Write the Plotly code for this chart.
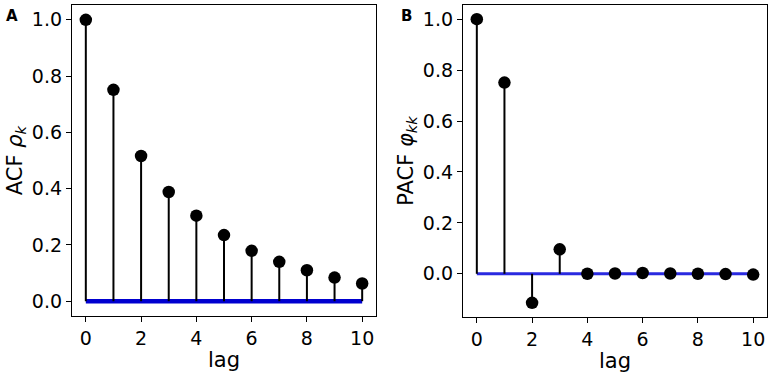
import plotly.graph_objects as go

lags = [0, 1, 2, 3, 4, 5, 6, 7, 8, 9, 10]
acf_values = [1.0, 0.751, 0.516, 0.388, 0.304, 0.235, 0.179, 0.140, 0.110, 0.084, 0.063]
pacf_values = [1.0, 0.751, -0.114, 0.096, 0.0, 0.001, 0.003, 0.001, 0.0, -0.001, -0.003]
x_ticks = [0, 2, 4, 6, 8, 10]
y_ticks = [0.0, 0.2, 0.4, 0.6, 0.8, 1.0]
panel_labels = ["A", "B"]
y_titles = ["ACF <i>ρ</i><sub><i>k</i></sub>", "PACF <i>φ</i><sub><i>kk</i></sub>"]

W, H = 772, 378
FONT = "DejaVu Sans"

def stems(xs, ys):
    sx, sy = [], []
    for x, y in zip(xs, ys):
        sx += [x, x, None]
        sy += [0, y, None]
    return sx, sy

fig = go.Figure()

panels = [
    dict(vals=acf_values, xa="x", ya="y", base_w=4.5, base_c="#0000d0"),
    dict(vals=pacf_values, xa="x2", ya="y2", base_w=3, base_c="#2a2ae0"),
]
for p in panels:
    fig.add_trace(go.Scatter(x=[lags[0], lags[-1]], y=[0, 0], mode="lines",
                             line=dict(color=p["base_c"], width=p["base_w"]),
                             xaxis=p["xa"], yaxis=p["ya"], showlegend=False, hoverinfo="skip"))
    sx, sy = stems(lags, p["vals"])
    fig.add_trace(go.Scatter(x=sx, y=sy, mode="lines",
                             line=dict(color="black", width=2),
                             xaxis=p["xa"], yaxis=p["ya"], showlegend=False, hoverinfo="skip"))
    fig.add_trace(go.Scatter(x=lags, y=p["vals"], mode="markers",
                             marker=dict(color="black", size=12.5),
                             xaxis=p["xa"], yaxis=p["ya"], showlegend=False))

def px_x(a, b):
    return [a / W, b / W]

def px_y(top, bottom):
    return [(H - bottom) / H, (H - top) / H]

axis_common = dict(showline=True, linecolor="black", linewidth=1.3, mirror=True,
                   ticks="outside", ticklen=5, tickwidth=1.3, tickcolor="black",
                   showgrid=False, zeroline=False, automargin=False,
                   tickfont=dict(family=FONT, size=19, color="black"))

fig.update_layout(
    width=W, height=H,
    margin=dict(l=0, r=0, t=0, b=0),
    paper_bgcolor="white", plot_bgcolor="white",
    font=dict(family=FONT, color="black"),
    xaxis=dict(domain=px_x(72, 376), range=[-0.5, 10.5], tickvals=x_ticks,
               title=dict(text="lag", font=dict(family=FONT, size=21), standoff=4),
               anchor="y", **axis_common),
    yaxis=dict(domain=px_y(5, 316), range=[-0.0526, 1.0526], tickvals=y_ticks,
               tickformat=".1f",
               title=dict(text=y_titles[0], font=dict(family=FONT, size=21), standoff=3),
               anchor="x", **axis_common),
    xaxis2=dict(domain=px_x(463, 767), range=[-0.5, 10.5], tickvals=x_ticks,
                title=dict(text="lag", font=dict(family=FONT, size=21), standoff=4),
                anchor="y2", **axis_common),
    yaxis2=dict(domain=px_y(5, 317), range=[-0.1697, 1.0557], tickvals=y_ticks,
                tickformat=".1f",
                title=dict(text=y_titles[1], font=dict(family=FONT, size=21), standoff=3),
                anchor="x2", **axis_common),
)

for lbl, xp in zip(panel_labels, [12, 406]):
    fig.add_annotation(text="<b>%s</b>" % lbl, x=xp / W, y=(H - 16) / H,
                       xref="paper", yref="paper", showarrow=False,
                       xanchor="center", yanchor="middle",
                       font=dict(family=FONT, size=15, color="black"))

fig.write_html("out.html", config={"displayModeBar": False},
               post_script="document.body.style.margin='0px';document.body.style.overflow='hidden';")
